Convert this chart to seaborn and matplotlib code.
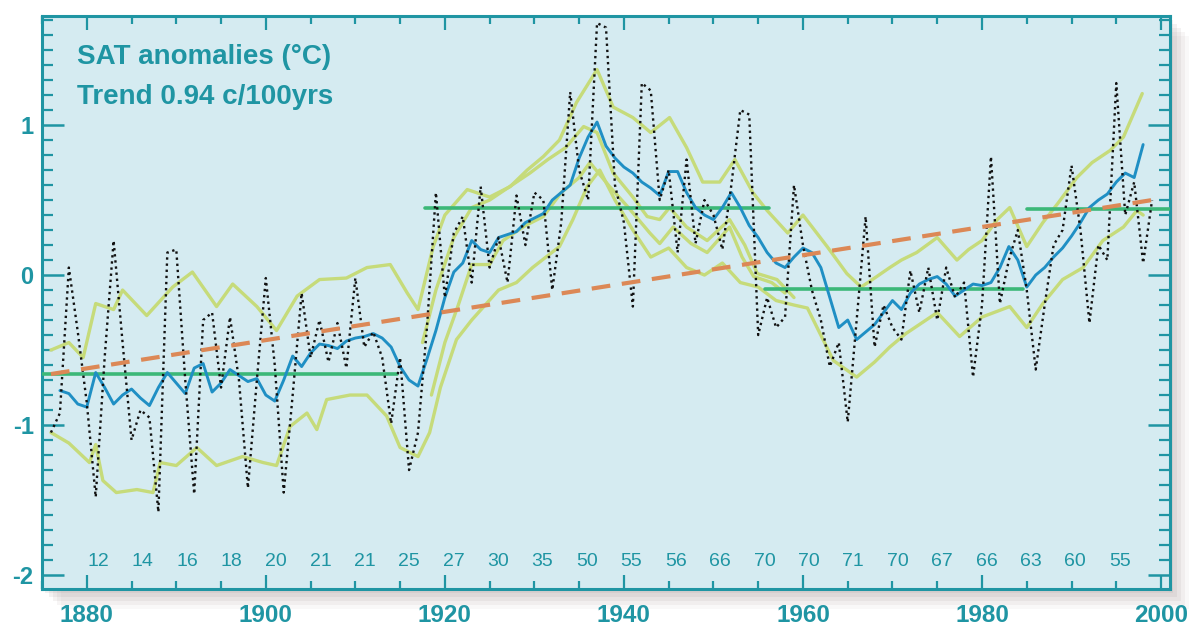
import numpy as np
import pandas as pd
import matplotlib
matplotlib.use("Agg")
import matplotlib.pyplot as plt
import seaborn as sns
from matplotlib.patches import Rectangle
from matplotlib.ticker import MultipleLocator, FixedLocator

# ---- data ----
# annual SAT anomalies (dotted)
ann_years = list(range(1876, 2000))
ann_vals = [-1.05, -0.92, 0.05, -0.38, -0.85, -1.48, -0.55, 0.23, -0.45, -1.10,
            -0.90, -0.95, -1.58, 0.15, 0.17, -0.70, -1.46, -0.30, -0.25, -0.75,
            -0.28, -0.70, -1.42, -0.70, -0.02, -0.60, -1.45, -0.80, -0.12, -0.55,
            -0.30, -0.58, -0.32, -0.62, -0.02, -0.48, -0.38, -0.55, -0.99, -0.55,
            -1.30, -1.05, -0.35, 0.55, -0.15, 0.28, 0.39, -0.05, 0.59, 0.05,
            0.25, -0.05, 0.53, 0.20, 0.55, 0.50, -0.10, 0.35, 1.22, 0.70,
            0.50, 1.68, 1.65, 0.60, 0.35, -0.21, 1.28, 1.23, 0.50, 0.70,
            0.15, 0.77, 0.21, 0.50, 0.40, 0.17, 0.60, 1.10, 1.07, -0.40,
            -0.15, -0.35, -0.28, 0.60, 0.20, -0.10, -0.30, -0.61, -0.45, -0.98,
            -0.30, 0.39, -0.48, -0.20, -0.35, -0.43, 0.03, -0.25, 0.05, -0.30,
            0.05, -0.15, -0.05, -0.68, -0.20, 0.79, -0.19, 0.10, 0.30, -0.10,
            -0.63, -0.20, 0.20, 0.30, 0.73, 0.30, -0.32, 0.20, 0.10, 1.28,
            0.40, 0.62, 0.08, 0.50]

# smoothed series (blue)
smooth_years = list(range(1877, 1999))
smooth_vals = [-0.77, -0.79, -0.86, -0.88, -0.65, -0.75, -0.86, -0.80, -0.76, -0.82,
               -0.87, -0.75, -0.65, -0.72, -0.79, -0.62, -0.59, -0.78, -0.72, -0.63,
               -0.67, -0.71, -0.69, -0.80, -0.84, -0.70, -0.54, -0.61, -0.52, -0.46,
               -0.47, -0.49, -0.44, -0.42, -0.41, -0.39, -0.42, -0.48, -0.61, -0.70,
               -0.74, -0.56, -0.37, -0.15, 0.02, 0.08, 0.23, 0.17, 0.15, 0.25,
               0.27, 0.29, 0.35, 0.38, 0.41, 0.50, 0.55, 0.60, 0.78, 0.92,
               1.02, 0.86, 0.78, 0.72, 0.68, 0.62, 0.58, 0.53, 0.69, 0.69,
               0.55, 0.45, 0.40, 0.37, 0.45, 0.55, 0.45, 0.33, 0.25, 0.15,
               0.08, 0.05, 0.12, 0.18, 0.15, 0.05, -0.15, -0.35, -0.30, -0.43,
               -0.38, -0.33, -0.25, -0.17, -0.23, -0.12, -0.06, -0.03, -0.01, -0.06,
               -0.14, -0.10, -0.06, -0.07, -0.05, 0.05, 0.19, 0.10, -0.08, 0.00,
               0.05, 0.12, 0.18, 0.26, 0.35, 0.45, 0.50, 0.54, 0.62, 0.68,
               0.65, 0.87]

# error envelopes (yellow-green)
upper_years = [1876, 1878, 1879.6, 1881, 1883, 1884, 1886.7, 1889.6, 1891.8, 1894.5,
               1896.3, 1899, 1901.2, 1903.5, 1906, 1909, 1911.3, 1913.9, 1915.8, 1917,
               1918.7, 1920, 1922.5, 1925, 1927.3, 1929.2, 1931, 1932.8, 1934.7, 1937,
               1938.8, 1941, 1943, 1945.1, 1947, 1948.8, 1950.7, 1952.4, 1954.4, 1956,
               1958.3, 1960, 1962.7, 1964.9, 1966.5, 1968, 1969.7, 1971, 1972.7, 1975,
               1977.2, 1978.5, 1980, 1981.7, 1983.1, 1985, 1986.8, 1988.5, 1990.6, 1992.3,
               1994.3, 1995.8, 1997.9]
upper_vals = [-0.50, -0.45, -0.55, -0.19, -0.23, -0.10, -0.27, -0.08, 0.02, -0.21,
              -0.06, -0.21, -0.37, -0.14, -0.03, -0.02, 0.05, 0.07, -0.12, -0.23,
              0.19, 0.40, 0.57, 0.52, 0.59, 0.70, 0.79, 0.90, 1.15, 1.37,
              1.12, 1.05, 0.95, 1.05, 0.85, 0.62, 0.62, 0.77, 0.55, 0.43,
              0.28, 0.40, 0.19, 0.01, -0.08, -0.02, 0.05, 0.10, 0.15, 0.25,
              0.10, 0.17, 0.23, 0.37, 0.45, 0.19, 0.35, 0.48, 0.65, 0.75,
              0.83, 0.92, 1.21]

lower_years = [1876, 1878, 1880.3, 1881, 1881.8, 1883.3, 1885.6, 1887.4, 1888.2, 1890,
               1892.3, 1894.5, 1897.4, 1899.7, 1901.2, 1902.7, 1904.6, 1905.7, 1906.8, 1909.4,
               1911.3, 1913.5, 1915, 1917, 1918.3, 1919.5, 1921.3, 1923, 1926, 1928,
               1929.8, 1932.8, 1934.3, 1935.9, 1937.3, 1939, 1941, 1943, 1945, 1947,
               1949, 1951, 1953, 1955, 1957, 1959, 1960.5, 1963.4, 1966, 1968,
               1969.7, 1971.5, 1975, 1977.5, 1980, 1983.1, 1985, 1986.8, 1989, 1991.3,
               1993.5, 1995.8, 1997.3, 1998]
lower_vals = [-1.05, -1.12, -1.25, -1.13, -1.37, -1.45, -1.43, -1.45, -1.25, -1.27,
              -1.15, -1.27, -1.21, -1.25, -1.27, -1.01, -0.92, -1.03, -0.83, -0.80,
              -0.80, -0.94, -1.15, -1.21, -1.05, -0.75, -0.43, -0.30, -0.10, -0.05,
              0.05, 0.19, 0.37, 0.59, 0.70, 0.50, 0.30, 0.12, 0.18, 0.05,
              0.00, 0.08, -0.05, -0.08, -0.17, -0.20, -0.22, -0.57, -0.68, -0.58,
              -0.48, -0.39, -0.25, -0.41, -0.28, -0.21, -0.35, -0.19, -0.03, 0.05,
              0.23, 0.32, 0.43, 0.40]

inner_a_years = [1917.5, 1919, 1921, 1923, 1925, 1927, 1929.5, 1931.5, 1933.5, 1935.5,
                 1937, 1938.8, 1941, 1942.6, 1944, 1945.1, 1947, 1949.3, 1951.8, 1953.5,
                 1954.9, 1957.1, 1959]
inner_a_vals = [-0.45, -0.10, 0.25, 0.45, 0.50, 0.58, 0.68, 0.77, 0.85, 0.99,
                0.95, 0.68, 0.52, 0.39, 0.37, 0.45, 0.32, 0.23, 0.37, 0.20,
                0.01, -0.03, -0.15]

inner_b_years = [1918.5, 1920, 1921.5, 1923, 1925, 1926.5, 1929, 1931, 1933, 1935,
                 1936.2, 1938.4, 1940.5, 1942.9, 1944, 1945.5, 1947.5, 1949.3, 1951.8, 1953.2,
                 1954.5, 1956.5, 1958]
inner_b_vals = [-0.80, -0.45, -0.20, 0.07, 0.07, 0.23, 0.33, 0.39, 0.55, 0.65,
                0.75, 0.59, 0.45, 0.28, 0.21, 0.32, 0.21, 0.15, 0.32, 0.12,
                -0.01, -0.05, -0.12]

# regime means (green)
regime_start = [1875, 1917.8, 1955.8, 1985]
regime_end = [1914.7, 1956.2, 1984.6, 2001]
regime_level = [-0.66, 0.45, -0.09, 0.44]

# linear trend (orange dashed)
trend_years = [1876, 1999]
trend_vals = [-0.66, 0.50]

# number of stations
station_counts = [12, 14, 16, 18, 20, 21, 21, 25, 27, 30, 35, 50,
                  55, 56, 66, 70, 70, 71, 70, 67, 66, 63, 60, 55]

# ---- style ----
sns.set_style("white")
plt.rcParams['font.family'] = ['Liberation Sans', 'DejaVu Sans']

TEAL = '#1f95a3'
BG = '#d5ebf1'
YELLOW = '#c6db7a'
GREEN = '#3cb878'
BLUE = '#1f8fc4'
ORANGE = '#dc8856'

fig = plt.figure(figsize=(11.9, 6.27), dpi=100)
W, H = 1190, 627
x0, y0, w, h = 42 / W, 1 - 589 / H, (1170 - 42) / W, (589 - 16) / H

# soft drop shadow behind the frame
for k, a in enumerate([0.12, 0.11, 0.10, 0.08, 0.06]):
    dx, dy = (3 + 4 * k) / W, (4 + 4 * k) / H
    fig.patches.append(Rectangle((x0 + dx, y0 - dy), w, h, transform=fig.transFigure,
                                 facecolor='#9a8888', edgecolor='none', alpha=a, zorder=-5))

ax = fig.add_axes([x0, y0, w, h])
ax.set_facecolor(BG)

# envelopes
for xs, ys in [(upper_years, upper_vals), (lower_years, lower_vals),
               (inner_a_years, inner_a_vals), (inner_b_years, inner_b_vals)]:
    sns.lineplot(x=xs, y=ys, ax=ax, color=YELLOW, linewidth=2.4, sort=False,
                 estimator=None, legend=False, zorder=2)

# regime means
for s, e, v in zip(regime_start, regime_end, regime_level):
    sns.lineplot(x=[s, e], y=[v, v], ax=ax, color=GREEN, linewidth=2.6,
                 estimator=None, legend=False, zorder=3)

# smoothed
sns.lineplot(x=smooth_years, y=smooth_vals, ax=ax, color=BLUE, linewidth=2.1,
             estimator=None, legend=False, zorder=4)

# annual
sns.lineplot(x=ann_years, y=ann_vals, ax=ax, color='#111111', linewidth=1.7,
             linestyle=(0, (1, 1.6)), estimator=None, legend=False, zorder=5)

# trend
sns.lineplot(x=trend_years, y=trend_vals, ax=ax, color=ORANGE, linewidth=3.0,
             linestyle=(0, (4.5, 2.8)), estimator=None, legend=False, zorder=6)

# station counts
for i, n in enumerate(station_counts):
    ax.text(1881.3 + 4.96 * i, -1.91, str(n), color=TEAL, fontsize=14,
            ha='center', va='center')

ax.text(0.031, 0.928, "SAT anomalies (\u00b0C)", transform=ax.transAxes,
        fontsize=20, fontweight='bold', color=TEAL, ha='left', va='center')
ax.text(0.031, 0.859, "Trend 0.94 c/100yrs", transform=ax.transAxes,
        fontsize=20, fontweight='bold', color=TEAL, ha='left', va='center')

# axes
ax.set_xlim(1875, 2001)
ax.set_ylim(-2.093, 1.727)
ax.set_xlabel("")
ax.set_ylabel("")
ax.xaxis.set_major_locator(MultipleLocator(20))
ax.xaxis.set_minor_locator(MultipleLocator(5))
ax.yaxis.set_major_locator(FixedLocator([-2, -1, 0, 1]))
ax.yaxis.set_minor_locator(MultipleLocator(0.1))
ax.set_xticklabels([str(int(t)) for t in ax.get_xticks()])
ax.set_yticklabels(['-2', '-1', '0', '1'])

ax.tick_params(axis='x', which='major', direction='in', length=10, width=1.6,
               color=TEAL, top=True, bottom=True, labelsize=17.5, labelcolor=TEAL, pad=11)
ax.tick_params(axis='x', which='minor', direction='in', length=6, width=1.6,
               color=TEAL, top=True, bottom=True)
ax.tick_params(axis='y', which='major', direction='in', length=16, width=1.8,
               color=TEAL, left=True, right=True, labelsize=17, labelcolor=TEAL, pad=6)
ax.tick_params(axis='y', which='minor', direction='in', length=8, width=1.6,
               color=TEAL, left=True, right=True)
for lab in ax.get_xticklabels() + ax.get_yticklabels():
    lab.set_fontweight('bold')

for sp in ax.spines.values():
    sp.set_color(TEAL)
    sp.set_linewidth(2.2)
    sp.set_visible(True)

fig.savefig("out.png", dpi=100, facecolor='white')
